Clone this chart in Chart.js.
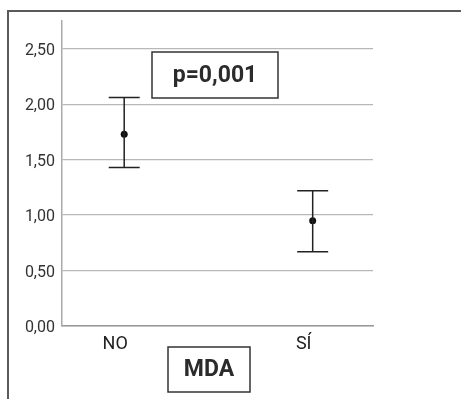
<!DOCTYPE html>
<html>
<head>
<meta charset="utf-8">
<script src="https://cdn.jsdelivr.net/npm/chart.js@4/dist/chart.umd.min.js"></script>
<style>
    html, body { margin: 0; padding: 0; background: #fff; }
    #wrap { width: 461px; height: 399px; }
</style>
</head>
<body>
<div id="wrap"><canvas id="meanChart" width="461" height="399"></canvas></div>
<script>
// Data
var categories = ['NO', 'SÍ'];
var means = [1.73, 0.95];
var lowerCI = [1.43, 0.67];
var upperCI = [2.06, 1.22];
var yTicks = [0, 0.5, 1, 1.5, 2, 2.5];
var yTickLabels = ['0,00', '0,50', '1,00', '1,50', '2,00', '2,50'];
var pValueText = 'p=0,001';
var axisTitle = 'MDA';

var points = categories.map(function (c, i) {
    return { x: i, y: means[i] };
});

// Error bars, boxed labels and outer frame
var extras = {
    id: 'extras',
    afterDatasetsDraw: function (chart) {
        var ctx = chart.ctx;
        var xs = chart.scales.x, ys = chart.scales.y;
        ctx.save();
        ctx.strokeStyle = '#222';
        ctx.lineWidth = 1.5;
        for (var i = 0; i < categories.length; i++) {
            var px = xs.getPixelForValue(i);
            var top = ys.getPixelForValue(upperCI[i]);
            var bot = ys.getPixelForValue(lowerCI[i]);
            ctx.beginPath();
            ctx.moveTo(px, top); ctx.lineTo(px, bot);
            ctx.moveTo(px - 15.5, top); ctx.lineTo(px + 15.5, top);
            ctx.moveTo(px - 15.5, bot); ctx.lineTo(px + 15.5, bot);
            ctx.stroke();
        }
        ctx.restore();
    },
    afterDraw: function (chart) {
        var ctx = chart.ctx;
        ctx.save();
        // outer frame
        ctx.strokeStyle = '#5a5a5a';
        ctx.lineWidth = 2;
        ctx.beginPath();
        ctx.moveTo(8, 399); ctx.lineTo(8, 11); ctx.lineTo(461, 11);
        ctx.stroke();

        function box(x, y, w, h, text) {
            ctx.fillStyle = '#fff';
            ctx.fillRect(x, y, w, h);
            ctx.strokeStyle = '#333';
            ctx.lineWidth = 1.5;
            ctx.strokeRect(x, y, w, h);
            ctx.fillStyle = '#2b2b2b';
            ctx.font = 'bold 23px Roboto';
            ctx.textAlign = 'center';
            ctx.textBaseline = 'middle';
            ctx.fillText(text, x + w / 2, y + h / 2 + 1);
        }
        box(152, 52, 126, 46, pValueText);
        box(168, 347, 82, 45, axisTitle);
        ctx.restore();
    }
};

var ctx = document.getElementById('meanChart').getContext('2d');
var meanChart = new Chart(ctx, {
    type: 'scatter',
    data: {
        datasets: [{
            data: points,
            pointRadius: 3.5,
            pointBackgroundColor: '#111',
            pointBorderColor: '#111',
            pointBorderWidth: 0
        }]
    },
    options: {
        responsive: false,
        animation: false,
        layout: { padding: { left: 0, right: 88, top: 21, bottom: 0 } },
        plugins: {
            legend: { display: false },
            tooltip: { enabled: false }
        },
        scales: {
            x: {
                type: 'linear',
                min: -0.33,
                max: 1.32,
                afterFit: function (scale) { scale.height = 73; },
                afterBuildTicks: function (scale) {
                    scale.ticks = categories.map(function (c, i) { return { value: i }; });
                },
                grid: { display: true, color: 'rgba(0,0,0,0)', drawTicks: false },
                border: { display: true, color: '#999', width: 1.5 },
                ticks: {
                    padding: 8,
                    labelOffset: -9,
                    color: '#222',
                    font: { family: 'Roboto', size: 18 },
                    callback: function (v) { return categories[v]; }
                }
            },
            y: {
                min: 0,
                max: 2.75,
                afterFit: function (scale) { scale.width = 62; },
                afterBuildTicks: function (scale) {
                    scale.ticks = yTicks.map(function (v) { return { value: v }; });
                },
                grid: { color: '#b8b8b8', lineWidth: 1.2, drawTicks: false },
                border: { display: true, color: '#aaa', width: 1.5 },
                ticks: {
                    padding: 7,
                    labelOffset: 2,
                    color: '#333',
                    font: { family: 'Roboto', size: 16 },
                    callback: function (v) { return yTickLabels[yTicks.indexOf(v)]; }
                }
            }
        }
    },
    plugins: [extras]
});
</script>
</body>
</html>
